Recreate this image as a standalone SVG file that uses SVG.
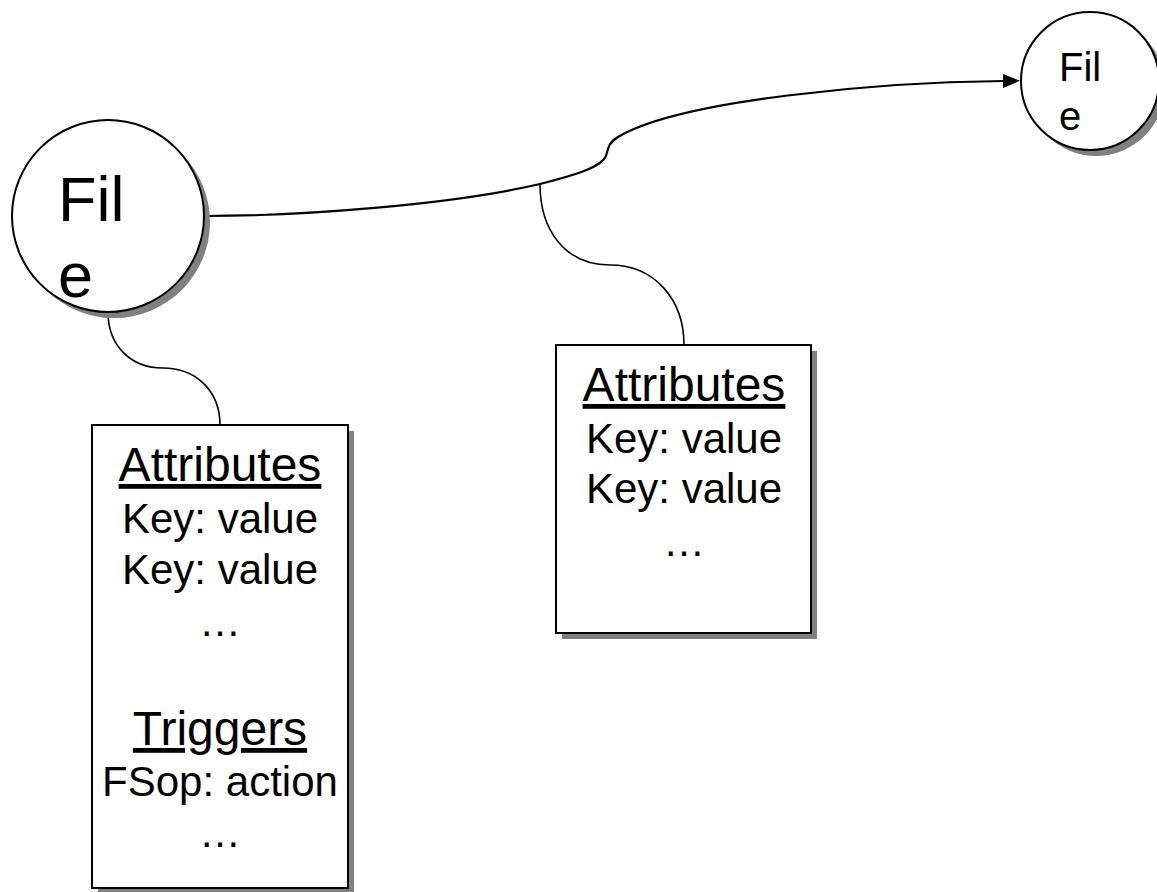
<svg xmlns="http://www.w3.org/2000/svg" width="1157" height="892" viewBox="0 0 1157 892">
<defs>
<style>
text{font-family:"Liberation Sans",Arial,Helvetica,sans-serif;fill:#000}
.shadow{fill:#808080;stroke:none}
.shape{fill:#fff;stroke:#000;stroke-width:2}
.conn{fill:none;stroke:#000;stroke-width:2.2}
.branch{fill:none;stroke:#000;stroke-width:1.6}
.head{font-size:48px;text-anchor:middle;text-decoration:underline}
.body{font-size:42px;text-anchor:middle}
</style>
<marker id="arrow" markerUnits="userSpaceOnUse" markerWidth="18" markerHeight="14" refX="0" refY="7" orient="auto">
<path d="M0,0 L17,7 L0,14 z" fill="#000"/>
</marker>
</defs>
<rect width="1157" height="892" fill="#fff"/>

<g id="connectors">
<path class="conn" d="M205,216 C300,216 450,205 540,184 C580,174 602,166 606,156 C608,149 608,143 618,137 C680,100 880,82 1003,81" marker-end="url(#arrow)"/>
<path class="branch" d="M540,184 C540,230 565,265 610,265 C655,265 684,300 684,345"/>
<path class="branch" d="M108,312 C108,345 130,368 163,368 C195,368 220,390 220,425"/>
</g>

<g id="file-left">
<circle class="shadow" cx="114" cy="222" r="96"/>
<circle class="shape" cx="108" cy="216" r="96"/>
<text x="58" y="221" font-size="63">Fil</text>
<text x="58" y="297" font-size="63">e</text>
</g>

<g id="file-right">
<circle class="shadow" cx="1096" cy="87" r="69"/>
<circle class="shape" cx="1090" cy="81" r="69"/>
<text x="1059" y="81" font-size="40">Fil</text>
<text x="1059" y="130" font-size="40">e</text>
</g>

<g id="attrs-left">
<rect class="shadow" x="98" y="431" width="256" height="463"/>
<rect class="shape" x="92" y="425" width="256" height="463"/>
<text class="head" x="220" y="481">Attributes</text>
<text class="body" x="220" y="533">Key: value</text>
<text class="body" x="220" y="584">Key: value</text>
<text class="body" x="220" y="636">…</text>
<text class="head" x="220" y="745">Triggers</text>
<text class="body" x="220" y="796">FSop: action</text>
<text class="body" x="220" y="847">…</text>
</g>

<g id="attrs-mid">
<rect class="shadow" x="562" y="351" width="255" height="288"/>
<rect class="shape" x="556" y="345" width="255" height="288"/>
<text class="head" x="684" y="401">Attributes</text>
<text class="body" x="684" y="453">Key: value</text>
<text class="body" x="684" y="503">Key: value</text>
<text class="body" x="684" y="556">…</text>
</g>
</svg>
